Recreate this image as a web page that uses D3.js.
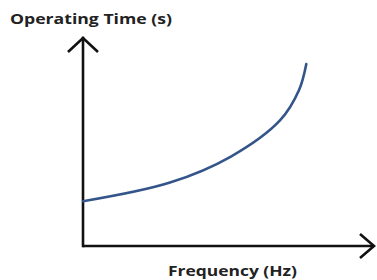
<!DOCTYPE html>
<html>
<head>
<meta charset="utf-8">
<script src="https://cdn.jsdelivr.net/npm/d3@7"></script>
<style>
  html, body { margin: 0; padding: 0; background: #fff; }
  svg { display: block; }
  text { font-family: "Open Sans", sans-serif; font-weight: bold; fill: #222; }
</style>
</head>
<body>
<script>
// curve (arbitrary units)
let frequency = [0, 3.0, 5.1, 6.8, 7.45, 7.7];
let opTime = [2.15, 3.05, 4.3, 6.05, 7.5, 8.75];

let xLabel = 'Frequency (Hz)';
let yLabel = 'Operating Time (s)';

let width = 377, height = 280;

let svg = d3.select('body')
  .append('svg')
  .attr('width', width)
  .attr('height', height);

// scales
let x = d3.scaleLinear().domain([0, 10]).range([83, 373]);
let y = d3.scaleLinear().domain([0, 10]).range([246, 38]);

let points = frequency.map(function (f, i) {
  return { f: f, t: opTime[i] };
});

// axes as plain lines with open arrow heads
let axisG = svg.append('g')
  .attr('stroke', '#111')
  .attr('stroke-width', 2.6)
  .attr('fill', 'none')
  .attr('stroke-linecap', 'butt');

axisG.append('path')
  .attr('d', 'M' + x(0) + ',' + y(0) + 'V' + y(10))
  .attr('stroke-linecap', 'square');
axisG.append('path')
  .attr('d', 'M' + x(0) + ',' + y(0) + 'H' + (x(10) + 1));

// y arrow head
axisG.append('path')
  .attr('stroke-linejoin', 'miter')
  .attr('d', 'M' + (x(0) - 15) + ',' + (y(10) + 14) + 'L' + x(0) + ',' + y(10) + 'L' + (x(0) + 15) + ',' + (y(10) + 14));
// x arrow head
axisG.append('path')
  .attr('stroke-linejoin', 'miter')
  .attr('d', 'M' + (x(10) - 13) + ',' + (y(0) - 12) + 'L' + (x(10) + 1) + ',' + y(0) + 'L' + (x(10) - 13) + ',' + (y(0) + 12));

// the curve
let line = d3.line()
  .x(function (d) { return x(d.f); })
  .y(function (d) { return y(d.t); })
  .curve(d3.curveCatmullRom.alpha(0.5));

svg.append('path')
  .attr('fill', 'none')
  .attr('stroke', '#34558a')
  .attr('stroke-width', 2.6)
  .attr('stroke-linecap', 'round')
  .attr('d', line(points));

// labels (the picture's lettering is a bit wide, so stretch it)
svg.append('text')
  .attr('x', 10)
  .attr('y', 24)
  .attr('font-size', 14)
  .attr('textLength', 162)
  .attr('lengthAdjust', 'spacingAndGlyphs')
  .text(yLabel);

svg.append('text')
  .attr('x', 168)
  .attr('y', 276)
  .attr('font-size', 14)
  .attr('textLength', 129)
  .attr('lengthAdjust', 'spacingAndGlyphs')
  .text(xLabel);
</script>
</body>
</html>
